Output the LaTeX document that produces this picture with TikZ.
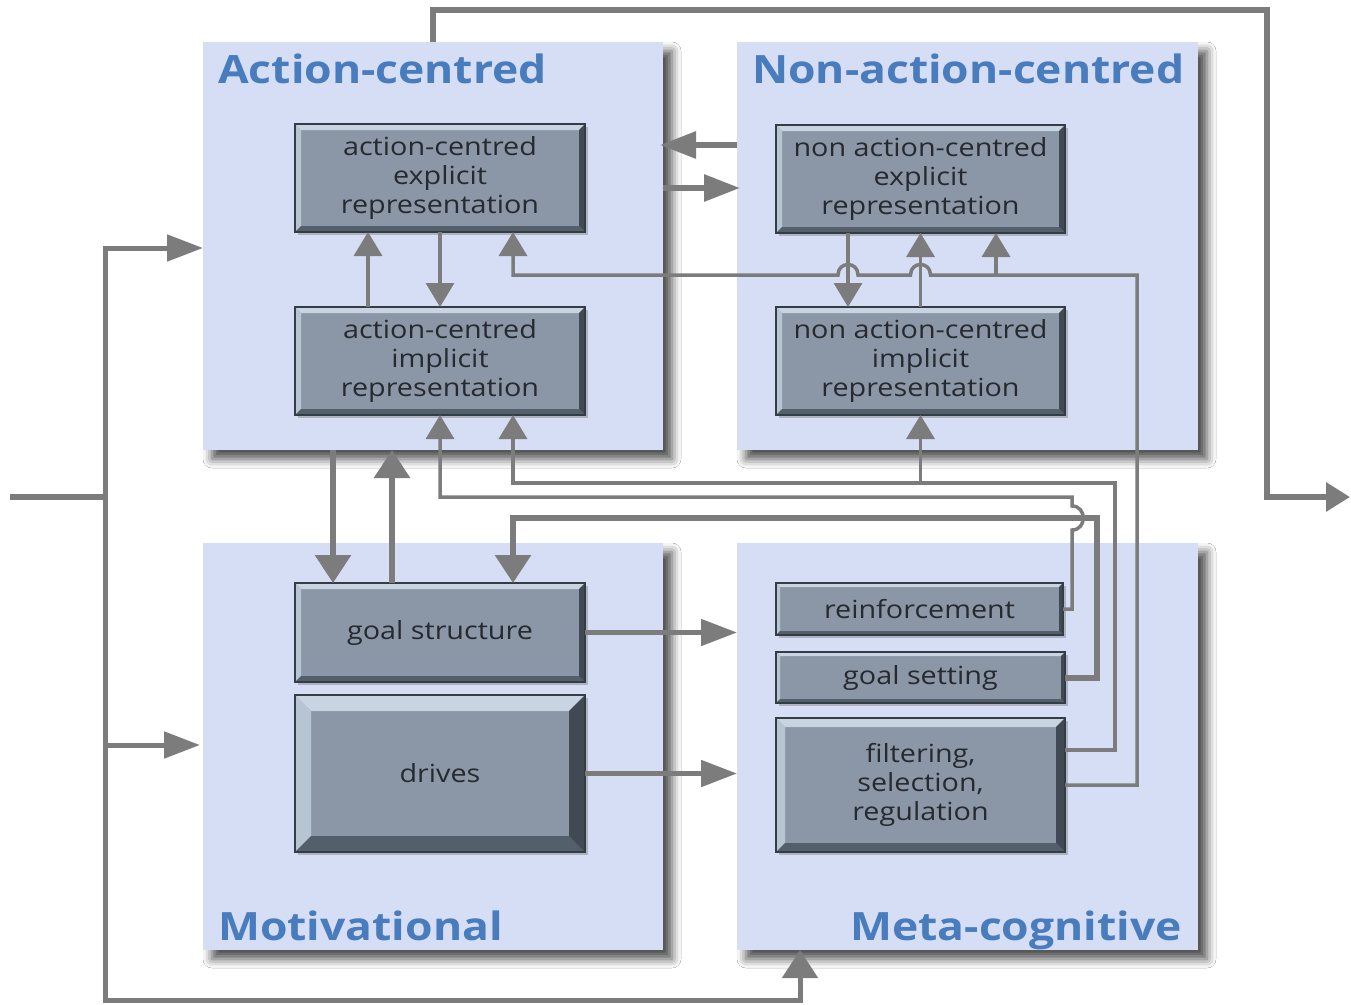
\documentclass[tikz,border=0pt]{standalone}
\usepackage{fontspec}
\setmainfont{Open Sans}
\newfontfamily\boxfont[FakeStretch=1.15]{Open Sans}
\newfontfamily\titlefont[FakeStretch=1.14]{Open Sans Bold}
\usetikzlibrary{arrows.meta,shadows,shadows.blur,calc}
\definecolor{panelblue}{RGB}{214,222,245}
\definecolor{titleblue}{RGB}{72,124,188}
\definecolor{boxfill}{RGB}{139,151,167}
\definecolor{boxlight}{RGB}{200,212,226}
\definecolor{boxleft}{RGB}{182,196,212}
\definecolor{boxbottom}{RGB}{84,95,108}
\definecolor{boxright}{RGB}{64,73,84}
\definecolor{boxborder}{RGB}{52,60,70}
\definecolor{boxtext}{RGB}{38,42,48}
\definecolor{linegray}{RGB}{124,124,124}
\begin{document}
\begin{tikzpicture}[x=1pt,y=-1pt,
  panel/.style={fill=panelblue, draw=none, inner sep=0pt, outer sep=0pt,
    blur shadow={shadow xshift=9pt, shadow yshift=-9pt, shadow blur radius=9pt, shadow opacity=70}},
  ptitle/.style={text=titleblue, font=\fontsize{39}{44}\titlefont, inner sep=0pt},
  bevel/.style={draw=boxborder, line width=1.2pt, fill=boxfill, inner sep=0pt, outer sep=0pt,
    align=center, text=boxtext, font=\fontsize{25}{29}\boxfont,
    drop shadow={shadow xshift=3pt, shadow yshift=-3pt, opacity=0.45},
    path picture={
      \coordinate (bvnw) at (path picture bounding box.north west);
      \coordinate (bvne) at (path picture bounding box.north east);
      \coordinate (bvsw) at (path picture bounding box.south west);
      \coordinate (bvse) at (path picture bounding box.south east);
      \fill[boxlight] (bvnw) -- (bvne) -- ([shift={(-#1,-#1)}]bvne) -- ([shift={(#1,-#1)}]bvnw) -- cycle;
      \fill[boxleft] (bvnw) -- (bvsw) -- ([shift={(#1,#1)}]bvsw) -- ([shift={(#1,-#1)}]bvnw) -- cycle;
      \fill[boxbottom] (bvsw) -- (bvse) -- ([shift={(-#1,#1)}]bvse) -- ([shift={(#1,#1)}]bvsw) -- cycle;
      \fill[boxright] (bvne) -- (bvse) -- ([shift={(-#1,#1)}]bvse) -- ([shift={(-#1,-#1)}]bvne) -- cycle;
    }},
  conn/.style={draw=linegray, line width=3.5pt, line join=miter},
  heavy/.style={draw=linegray, line width=6pt, line join=miter},
  tipS/.style={-{Triangle[width=28pt,length=24pt]}},
  tipL/.style={-{Triangle[width=26pt,length=36pt]}},
  tipT/.style={-{Triangle[width=35pt,length=28pt]}}
]
\useasboundingbox (0,0) rectangle (1351,1004);
\fill[white] (0,0) rectangle (1351,1004);

% panels
\node[panel, minimum width=460pt, minimum height=408pt] (acp) at (433,246) {};
\node[panel, minimum width=461pt, minimum height=408pt] (nacp) at (967.5,246) {};
\node[panel, minimum width=460pt, minimum height=407pt] (mop) at (433,746.5) {};
\node[panel, minimum width=461pt, minimum height=407pt] (mcp) at (967.5,746.5) {};

% titles
\node[ptitle, anchor=base west] (t1) at (218,83) {Action-centred};
\node[ptitle, anchor=base west] (t2) at (752,83) {Non-action-centred};
\node[ptitle, anchor=base west] (t3) at (218,940) {Motivational};
\node[ptitle, anchor=base east] (t4) at (1182,940) {Meta-cognitive};

% boxes
\node[bevel=6pt, minimum width=290pt, minimum height=108pt] (acex) at (440,178) {action-centred\\explicit\\representation};
\node[bevel=6pt, minimum width=290pt, minimum height=108pt] (acim) at (440,361) {action-centred\\implicit\\representation};
\node[bevel=6pt, minimum width=289pt, minimum height=108pt] (nacex) at (920.5,179) {non action-centred\\explicit\\representation};
\node[bevel=6pt, minimum width=289pt, minimum height=108pt] (nacim) at (920.5,361) {non action-centred\\implicit\\representation};
\node[bevel=6pt, minimum width=290pt, minimum height=99pt] (gstr) at (440,632.5) {goal structure};
\node[bevel=16pt, minimum width=290pt, minimum height=157pt] (drv) at (440,773.5) {drives};
\node[bevel=4pt, minimum width=287pt, minimum height=52pt] (reinf) at (919.5,609) {reinforcement};
\node[bevel=4pt, minimum width=289pt, minimum height=51pt] (gset) at (920.5,677.5) {goal setting};
\node[bevel=9pt, minimum width=289pt, minimum height=134pt] (filt) at (920.5,785) {filtering,\\selection,\\regulation};

% coordinates
\coordinate (in) at (10,497);
\coordinate (split) at (105,497);
\coordinate (out) at (1350,497);
\coordinate (j1) at (996,275);
\coordinate (j2) at (920.5,483);

% input connectors
\draw[heavy] (in) -- (split);
\draw[conn, line width=5pt, tipL] (split) |- (acp.west |- 0,248);
\draw[conn, line width=5pt, tipL] (split) |- ([xshift=-3pt]mop.west |- 0,745);
\draw[conn, line width=5pt, tipT] (split) |- (800,1000) -- (mcp.south -| 800,0);

% output connector
\draw[heavy, tipS] (acp.north) -- (433,10) -- (1267,10) -- (1267,497) -- (out);

% between top panels
\draw[heavy, tipL] (nacp.west |- 0,145) -- ([xshift=-3pt]acp.east |- 0,145);
\draw[heavy, tipL] (acp.east |- 0,188) -- ([xshift=3pt]nacp.west |- 0,188);

% action-centred internal
\draw[conn, tipS] ([xshift=-72pt]acim.north) -- ([xshift=-72pt]acex.south);
\draw[conn, tipS] (acex.south) -- (acim.north);

% non-action-centred internal
\draw[conn, tipS] ([xshift=-72.5pt]nacex.south) -- ([xshift=-72.5pt]nacim.north);
\draw[conn, tipS] (nacim.north) -- (nacex.south);

% filtering -> explicit levels (with hops)
\draw[conn, tipS] (filt.east) -- (1137,785) -- (1137,275) -- (930.5,275)
  .. controls (930.5,261) and (910.5,261) .. (910.5,275) -- (858,275)
  .. controls (858,261) and (838,261) .. (838,275) -- (513,275) -- ([xshift=73pt]acex.south);
\draw[conn, tipS] (j1) -- ([xshift=75.5pt]nacex.south);

% filtering -> implicit levels
\draw[conn, tipS] ([yshift=35pt]filt.east) -- (1115,750) -- (1115,483) -- (513,483) -- ([xshift=73pt]acim.south);
\draw[conn, tipS] (j2) -- (nacim.south);

% reinforcement -> action-centred implicit (hop over goal-setting line)
\draw[conn, tipS] (reinf.east) -- (1072,609) -- (1072,530)
  .. controls (1087,530) and (1087,506) .. (1072,506) -- (1072,497) -- (440,497) -- (acim.south);

% goal setting -> goal structure
\draw[heavy, tipT] (gset.east) -- (1097,677.5) -- (1097,518) -- (513,518) -- ([xshift=73pt]gstr.north);

% action-centred <-> goal structure
\draw[heavy, tipT] ([xshift=-100pt]acp.south) -- ([xshift=-100pt]acp.south |- gstr.north);
\draw[heavy, tipT] ([xshift=-48pt]gstr.north) -- ([xshift=-48pt]gstr.north |- acp.south);

% motivational -> meta-cognitive
\draw[conn, line width=5pt, tipL] (gstr.east) -- (mcp.west |- gstr.east);
\draw[conn, line width=5pt, tipL] (drv.east) -- (mcp.west |- drv.east);
\end{tikzpicture}
\end{document}
